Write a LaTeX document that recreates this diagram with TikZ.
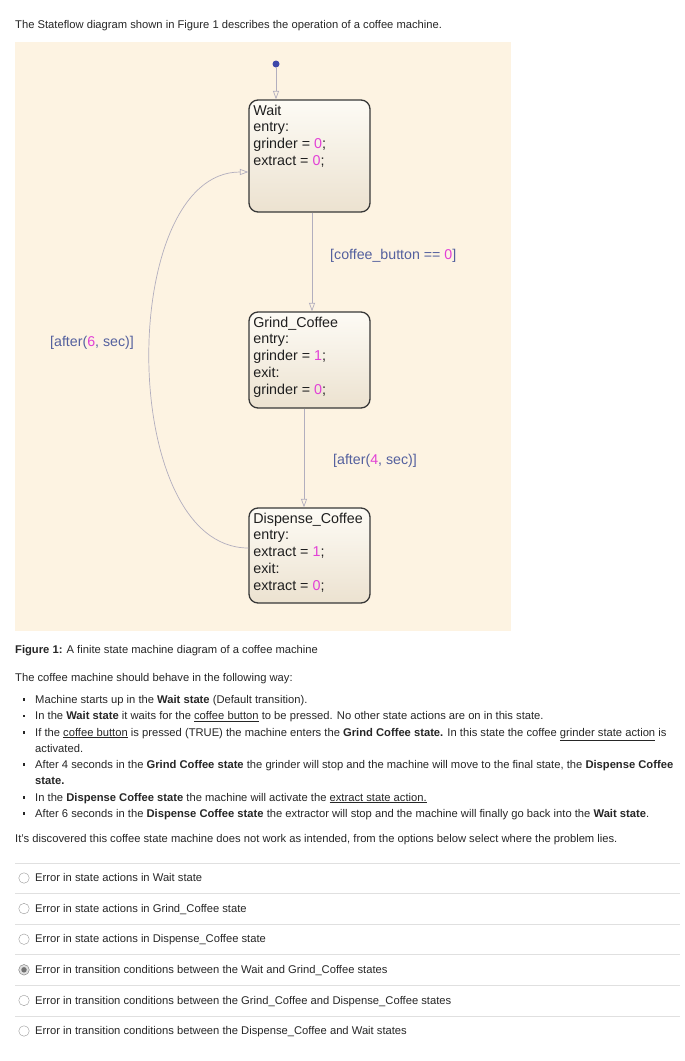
\documentclass[tikz,border=0pt]{standalone}
\usepackage{fontspec}
\setmainfont{Liberation Sans}
\usetikzlibrary{arrows.meta, positioning}

\definecolor{paper}{RGB}{253,243,226}
\definecolor{statetop}{RGB}{253,251,245}
\definecolor{statebot}{RGB}{236,226,208}
\definecolor{numpink}{RGB}{226,64,214}
\definecolor{condblue}{RGB}{84,96,158}
\definecolor{wirecol}{RGB}{178,174,190}
\definecolor{rulecol}{RGB}{224,224,224}
\definecolor{initblue}{RGB}{62,72,170}
\newcommand{\num}[1]{\textcolor{numpink}{#1}}

\begin{document}
\begin{tikzpicture}[x=1pt, y=-1pt,
  body/.style={anchor=base west, inner sep=0pt, font=\fontsize{11.2}{13}\selectfont, text=black!85},
  chartstate/.style={draw=black!78, line width=1.3pt, rounded corners=9pt, minimum width=121pt, top color=statetop, bottom color=statebot, inner sep=0pt},
  stext/.style={anchor=north west, align=left, inner xsep=4.8pt, inner ysep=5.1pt, font=\fontsize{14.3}{16.8}\selectfont, text=black!88},
  cond/.style={anchor=west, inner sep=0pt, font=\fontsize{14.2}{16}\selectfont, text=condblue},
  wire/.style={draw=wirecol, line width=0.7pt, -{Triangle[open, length=8.5pt, width=6pt]}},
  bulletdot/.style={rectangle, fill=black!85, inner sep=0pt, minimum size=2.6pt},
  radio/.style={circle, draw=black!40, fill=white, inner sep=0pt, minimum size=10.5pt}
]
  \useasboundingbox (0,0) rectangle (685,1061);
  \fill[paper] (15,42) rectangle (511,631);

  \node[body] (intro) at (15,28) {The Stateflow diagram shown in Figure 1 describes the operation of a coffee machine.};

  \node[circle, fill=initblue, inner sep=0pt, minimum size=7pt] (init) at (276,64) {};
  \node[chartstate, minimum height=112pt] (wait) at (309.5,156) {};
  \node[stext] (waittxt) at (wait.north west) {Wait\\entry:\\grinder = \num{0};\\extract = \num{0};};
  \node[chartstate, minimum height=96pt] (grind) at (309.5,360) {};
  \node[stext] (grindtxt) at (grind.north west) {Grind\_Coffee\\entry:\\grinder = \num{1};\\exit:\\grinder = \num{0};};
  \node[chartstate, minimum height=95pt] (disp) at (309.5,555.5) {};
  \node[stext] (disptxt) at (disp.north west) {Dispense\_Coffee\\entry:\\extract = \num{1};\\exit:\\extract = \num{0};};

  \node[cond] (condgo) at (330,256) {[coffee\_button == \num{0}]};
  \node[cond] (condgrind) at (333,461) {[after(\num{4}, sec)]};
  \node[cond] (condback) at (50,343) {[after(\num{6}, sec)]};

  \draw[wire] (init) -- ([xshift=-33.5pt]wait.north);
  \draw[wire] ([xshift=2.5pt]wait.south) -- ([xshift=2.5pt]grind.north);
  \draw[wire] ([xshift=-5.5pt]grind.south) -- ([xshift=-5.5pt]disp.north);
  \draw[wire] ([yshift=7.5pt]disp.west) .. controls (117,548) and (117,172) .. ([yshift=-16pt]wait.west);

  \node[body] (caption) at (15,653) {\textbf{Figure 1:} A finite state machine diagram of a coffee machine};
  \node[body] (lead) at (15,681) {The coffee machine should behave in the following way:};

  \foreach \yb [count=\i] in {703,719.5,736,768,801,817}
    \node[bulletdot] (bullet\i) at (24,\yb-3.5) {};
  \node[body] (item1) at (35,703) {Machine starts up in the \textbf{Wait state} (Default transition).};
  \node[body] (item2) at (35,719.5) {In the \textbf{Wait state} it waits for the \underline{coffee button} to be pressed. No other state actions are on in this state.};
  \node[body] (item3) at (35,736) {If the \underline{coffee button} is pressed (TRUE) the machine enters the \textbf{Grind Coffee state.} In this state the coffee \underline{grinder state action} is};
  \node[body] (item3b) at (35,752) {activated.};
  \node[body] (item4) at (35,768) {After 4 seconds in the \textbf{Grind Coffee state} the grinder will stop and the machine will move to the final state, the \textbf{Dispense Coffee}};
  \node[body] (item4b) at (35,784.5) {\textbf{state.}};
  \node[body] (item5) at (35,801) {In the \textbf{Dispense Coffee state} the machine will activate the \underline{extract state action.}};
  \node[body] (item6) at (35,817) {After 6 seconds in the \textbf{Dispense Coffee state} the extractor will stop and the machine will finally go back into the \textbf{Wait state}.};

  \node[body] (question) at (15,842) {It's discovered this coffee state machine does not work as intended, from the options below select where the problem lies.};

  \foreach \txt [count=\i] in {Error in state actions in Wait state,
      Error in state actions in Grind\_Coffee state,
      Error in state actions in Dispense\_Coffee state,
      Error in transition conditions between the Wait and Grind\_Coffee states,
      Error in transition conditions between the Grind\_Coffee and Dispense\_Coffee states,
      Error in transition conditions between the Dispense\_Coffee and Wait states}
  {
    \draw[rulecol, line width=0.8pt] (15,863+30.6*\i-30.6) -- (680,863+30.6*\i-30.6);
    \node[radio] (radio\i) at (24,878+30.6*\i-30.6) {};
    \node[body] (opt\i) at (35,881.6+30.6*\i-30.6) {\txt};
  }
  \node[circle, fill=black!12, draw=black!45, inner sep=0pt, minimum size=10.5pt] (picked) at (radio4) {};
  \node[circle, fill=black!55, inner sep=0pt, minimum size=5.5pt] (pickdot) at (picked) {};
\end{tikzpicture}
\end{document}
